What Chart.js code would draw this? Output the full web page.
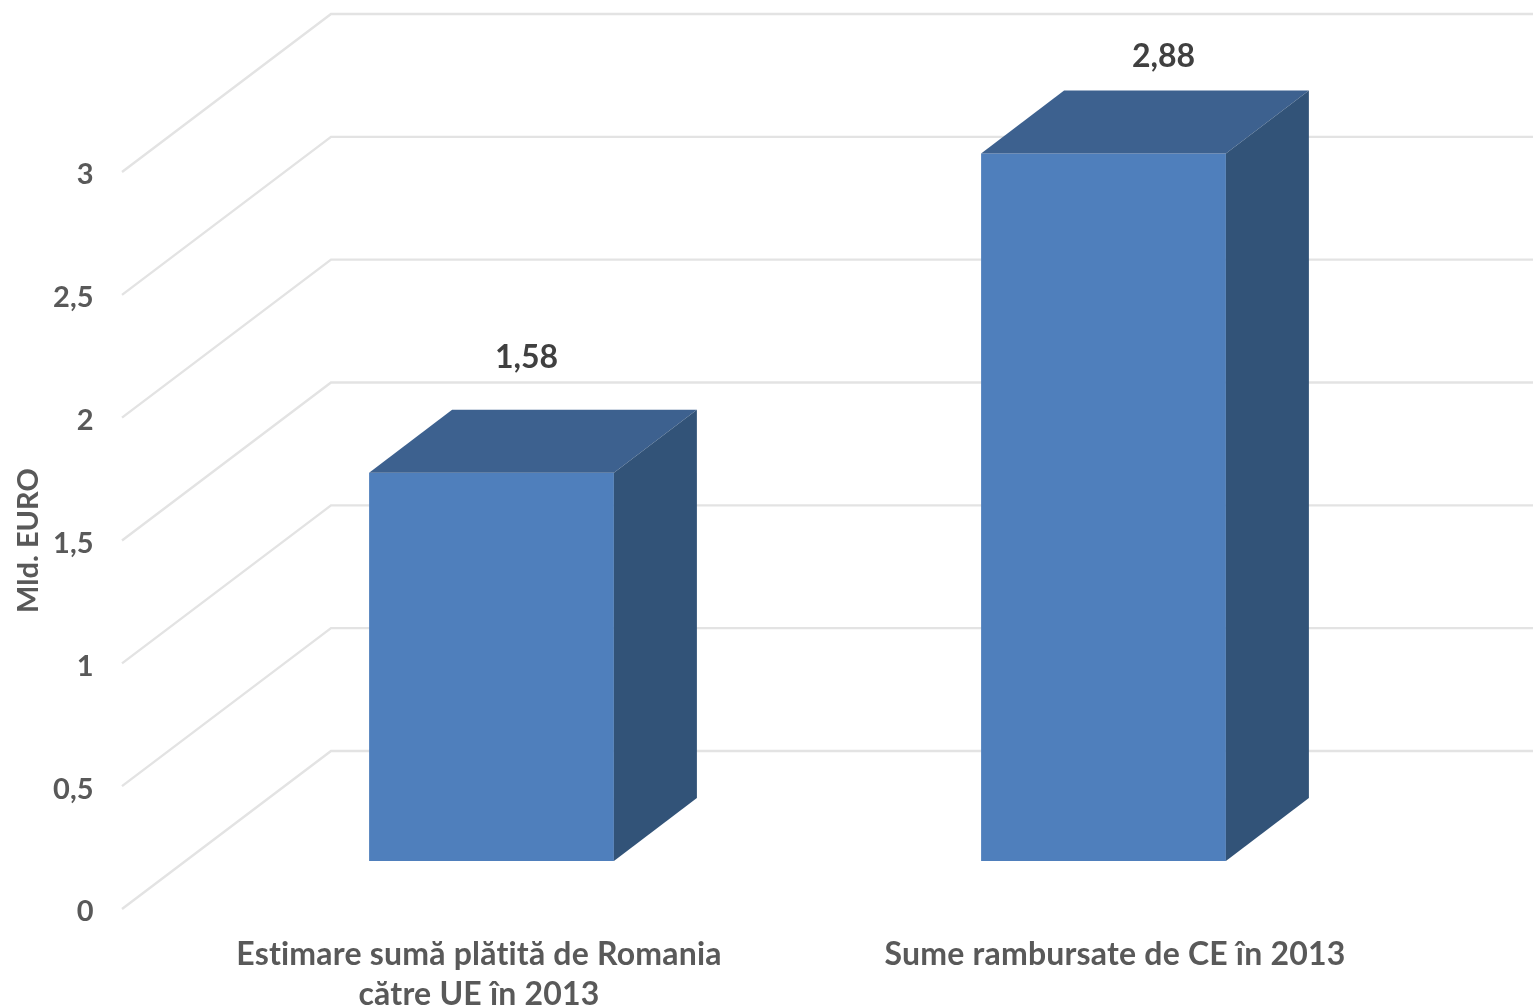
<!DOCTYPE html>
<html>
<head>
<meta charset="utf-8">
<title>Mld. EURO</title>
<script src="https://cdn.jsdelivr.net/npm/chart.js@4"></script>
<style>
  html, body { margin: 0; padding: 0; background: #fff; overflow: hidden; }
  canvas { display: block; }
</style>
</head>
<body>
<canvas id="chart" width="1533" height="1008"></canvas>
<script>
const categories = [
    ['Estimare sumă plătită de Romania', 'către UE în 2013'],
    ['Sume rambursate de CE în 2013']
];
const values = [1.58, 2.88];
const valueLabels = ['1,58', '2,88'];
const yTicks = [0, 0.5, 1, 1.5, 2, 2.5, 3];
const yTitle = 'Mld. EURO';

const FONT = 'Lato, sans-serif';

// the fake 3D box: how far the depth goes, and how far up the bars stand from the front edge
const floorLift = 48;
const barDepth = { dx: 83, dy: 63 };
const wallDepth = { dx: 209, dy: 158 };
const gridStartX = 122;

const threeD = {
    id: 'threeD',
    beforeDatasetsDraw(chart) {
        const { ctx, scales: { y }, width } = chart;
        ctx.save();
        ctx.strokeStyle = '#e3e3e3';
        ctx.lineWidth = 2.4;
        yTicks.forEach(t => {
            const py = y.getPixelForValue(t);
            ctx.beginPath();
            ctx.moveTo(gridStartX, py);
            ctx.lineTo(gridStartX + wallDepth.dx, py - wallDepth.dy);
            ctx.lineTo(width, py - wallDepth.dy);
            ctx.stroke();
        });
        ctx.restore();
        // bars sit on the middle of the floor
        ctx.save();
        ctx.translate(0, -floorLift);
    },
    afterDatasetsDraw(chart) {
        const { ctx } = chart;
        chart.getDatasetMeta(0).data.forEach(bar => {
            const left = bar.x - bar.width / 2;
            const right = bar.x + bar.width / 2;
            // top
            ctx.fillStyle = '#3d618f';
            ctx.beginPath();
            ctx.moveTo(left, bar.y);
            ctx.lineTo(left + barDepth.dx, bar.y - barDepth.dy);
            ctx.lineTo(right + barDepth.dx, bar.y - barDepth.dy);
            ctx.lineTo(right, bar.y);
            ctx.closePath();
            ctx.fill();
            // side
            ctx.fillStyle = '#325378';
            ctx.beginPath();
            ctx.moveTo(right, bar.y);
            ctx.lineTo(right + barDepth.dx, bar.y - barDepth.dy);
            ctx.lineTo(right + barDepth.dx, bar.base - barDepth.dy);
            ctx.lineTo(right, bar.base);
            ctx.closePath();
            ctx.fill();
        });
        ctx.restore();
    },
    afterDraw(chart) {
        const { ctx, scales: { x } } = chart;
        const labelShiftX = [35, 60];
        const labelShiftY = [115, 97];
        const catShiftX = [-12.5, 11.5];
        ctx.save();
        ctx.textAlign = 'center';
        ctx.textBaseline = 'middle';
        ctx.font = 'bold 32px ' + FONT;
        ctx.fillStyle = '#404040';
        chart.getDatasetMeta(0).data.forEach((bar, i) => {
            ctx.fillText(valueLabels[i], bar.x + labelShiftX[i], bar.y - floorLift - labelShiftY[i]);
        });
        ctx.letterSpacing = '0.2px';
        ctx.fillStyle = '#595959';
        categories.forEach((lines, i) => {
            lines.forEach((line, j) => {
                ctx.fillText(line, x.getPixelForValue(i) + catShiftX[i], 955 + j * 40);
            });
        });
        ctx.restore();
    }
};

new Chart(document.getElementById('chart'), {
    type: 'bar',
    data: {
        labels: categories,
        datasets: [{
            data: values,
            backgroundColor: '#4f7fbc',
            borderWidth: 0,
            barPercentage: 0.4,
            categoryPercentage: 1,
            clip: false
        }]
    },
    options: {
        responsive: false,
        animation: false,
        layout: { padding: { top: 172, right: 123.5, bottom: 99, left: 0 } },
        plugins: { legend: { display: false }, tooltip: { enabled: false } },
        scales: {
            x: {
                display: false
            },
            y: {
                min: 0,
                max: 3,
                afterBuildTicks(scale) { scale.ticks = yTicks.map(v => ({ value: v })); },
                afterFit(scale) {
                    scale.width = 185.5;
                    // the big tick padding would otherwise eat into the plot height
                    scale.paddingBottom = 0;
                    scale.paddingTop = 0;
                },
                grid: { display: false },
                border: { display: false },
                ticks: {
                    padding: 84,
                    labelOffset: 3,
                    color: '#595959',
                    font: { family: FONT, size: 29, weight: 'bold' },
                    callback: v => String(v).replace('.', ',')
                },
                title: {
                    display: true,
                    text: yTitle,
                    color: '#595959',
                    font: { family: FONT, size: 29, weight: 'bold' },
                    padding: { top: 11, bottom: 0 }
                }
            }
        }
    },
    plugins: [threeD]
});
</script>
</body>
</html>
